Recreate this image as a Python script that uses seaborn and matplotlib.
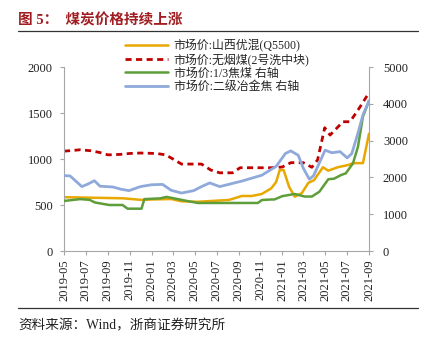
import numpy as np
import pandas as pd
import matplotlib
matplotlib.use("Agg")
import matplotlib.pyplot as plt
import matplotlib.dates as mdates
from matplotlib.lines import Line2D
import seaborn as sns

# ---------------- data ----------------
yellow_dates = ["2019-05-01", "2019-10-12", "2019-12-05", "2020-01-01", "2020-02-25", "2020-03-25",
                "2020-05-10", "2020-08-05", "2020-09-10", "2020-10-08", "2020-11-05", "2020-12-01",
                "2020-12-15", "2020-12-25", "2021-01-05", "2021-01-20", "2021-02-05", "2021-02-25",
                "2021-03-15", "2021-03-31", "2021-04-25", "2021-05-10", "2021-06-05", "2021-07-05",
                "2021-07-18", "2021-08-15", "2021-09-01"]
yellow_vals = [585, 573, 555, 560, 565, 540,
               535, 555, 598, 598, 620, 680,
               750, 880, 880, 700, 590, 630,
               740, 770, 910, 873, 910, 935,
               955, 955, 1275]

red_dates = ["2019-05-01", "2019-06-15", "2019-07-15", "2019-08-10", "2019-09-01", "2019-10-05",
             "2019-11-01", "2019-12-01", "2020-01-15", "2020-02-10", "2020-03-01", "2020-03-25",
             "2020-05-20", "2020-06-15", "2020-07-10", "2020-08-15", "2020-09-05", "2020-12-01",
             "2021-01-01", "2021-01-25", "2021-03-01", "2021-03-25", "2021-04-10", "2021-04-30",
             "2021-05-15", "2021-06-20", "2021-07-10", "2021-08-05", "2021-09-01"]
red_vals = [1085, 1100, 1090, 1070, 1045, 1050,
            1060, 1065, 1060, 1045, 1000, 945,
            945, 880, 850, 850, 905, 905,
            913, 960, 960, 910, 990, 1340,
            1260, 1405, 1405, 1555, 1720]

green_dates = ["2019-05-01", "2019-06-15", "2019-07-12", "2019-07-26", "2019-08-18", "2019-09-05",
               "2019-10-12", "2019-10-26", "2019-12-04", "2019-12-12", "2020-01-25", "2020-02-12",
               "2020-02-28", "2020-03-25", "2020-04-20", "2020-05-10", "2020-10-25", "2020-11-05",
               "2020-12-01", "2020-12-10", "2021-01-01", "2021-02-05", "2021-03-05", "2021-03-25",
               "2021-04-15", "2021-05-10", "2021-05-26", "2021-06-15", "2021-06-28", "2021-07-18",
               "2021-08-01", "2021-08-15", "2021-09-01"]
green_vals = [1360, 1410, 1390, 1320, 1280, 1250,
              1250, 1150, 1150, 1410, 1430, 1470,
              1440, 1390, 1340, 1305, 1305, 1385,
              1400, 1400, 1490, 1550, 1480, 1480,
              1610, 1950, 1965, 2065, 2110, 2380,
              2830, 3650, 4080]

blue_dates = ["2019-05-01", "2019-05-18", "2019-06-03", "2019-06-20", "2019-07-07", "2019-07-25",
              "2019-08-10", "2019-09-15", "2019-10-07", "2019-10-30", "2019-12-01", "2020-01-01",
              "2020-02-01", "2020-02-25", "2020-03-25", "2020-04-28", "2020-05-20", "2020-06-12",
              "2020-07-10", "2020-09-10", "2020-11-05", "2020-12-15", "2021-01-10", "2021-01-25",
              "2021-02-15", "2021-03-01", "2021-03-18", "2021-03-30", "2021-04-20", "2021-05-01",
              "2021-05-20", "2021-06-12", "2021-07-02", "2021-07-15", "2021-08-01", "2021-08-15",
              "2021-09-01"]
blue_vals = [2050, 2040, 1900, 1750, 1820, 1910,
             1760, 1740, 1680, 1640, 1750, 1800,
             1810, 1650, 1575, 1640, 1750, 1850,
             1750, 1900, 2060, 2300, 2650, 2720,
             2600, 2250, 1950, 2050, 2500, 2740,
             2670, 2700, 2530, 2650, 3200, 3700,
             4080]

labels = ["市场价:山西优混(Q5500)", "市场价:无烟煤(2号洗中块)",
          "市场价:1/3焦煤 右轴", "市场价:二级冶金焦 右轴"]
tick_dates = pd.date_range("2019-05-01", "2021-09-01", freq="2MS")
left_ticks = [0, 500, 1000, 1500, 2000]
right_ticks = [0, 1000, 2000, 3000, 4000, 5000]

title_text = "图 5：  煤炭价格持续上涨"
source_text = "资料来源：Wind，浙商证券研究所"

# ---------------- style ----------------
sns.set_theme(style="white")
plt.rcParams["font.family"] = ["Liberation Serif", "Noto Sans CJK SC", "DejaVu Sans"]

colors = {"y": "#E8A800", "r": "#C00000", "g": "#5E9E3A", "b": "#8FA9DB"}

W, H = 424, 343
fig = plt.figure(figsize=(W / 100, H / 100), dpi=100)
ax = fig.add_axes([64 / W, 1 - 251 / H, (369 - 64) / W, 184 / H])
ax2 = ax.twinx()

def frame(dates, vals):
    return pd.DataFrame({"date": pd.to_datetime(dates), "value": vals})

sns.lineplot(data=frame(yellow_dates, yellow_vals), x="date", y="value", ax=ax,
             color=colors["y"], linewidth=1.8, legend=False)
sns.lineplot(data=frame(red_dates, red_vals), x="date", y="value", ax=ax,
             color=colors["r"], linewidth=2.0, linestyle=(0, (2.2, 1.6)), legend=False)
sns.lineplot(data=frame(green_dates, green_vals), x="date", y="value", ax=ax2,
             color=colors["g"], linewidth=1.8, legend=False)
sns.lineplot(data=frame(blue_dates, blue_vals), x="date", y="value", ax=ax2,
             color=colors["b"], linewidth=2.0, legend=False)

ax.set_xlim(pd.Timestamp("2019-05-01"), pd.Timestamp("2021-09-01"))
ax.set_ylim(0, 2000)
ax2.set_ylim(0, 5000)
ax.set_yticks(left_ticks)
ax2.set_yticks(right_ticks)
ax.set_xticks(tick_dates)
ax.xaxis.set_major_formatter(mdates.DateFormatter("%Y-%m"))
ax.set_xlabel("")
ax.set_ylabel("")
ax2.set_ylabel("")

for a in (ax, ax2):
    a.spines["top"].set_visible(False)
    for s in ("left", "right", "bottom"):
        a.spines[s].set_color("#A6A6A6")
        a.spines[s].set_linewidth(0.8)
ax.spines["right"].set_visible(False)
ax2.spines["left"].set_visible(False)
ax2.spines["bottom"].set_visible(False)

tick_kw = dict(direction="out", length=3, width=0.8, color="#A6A6A6",
               labelcolor="#222222", labelsize=9)
ax.tick_params(axis="y", left=True, pad=5, **tick_kw)
ax.tick_params(axis="x", bottom=True, pad=3, labelrotation=90, **tick_kw)
ax2.tick_params(axis="y", right=True, pad=7, **tick_kw)
for lbl in ax.get_xticklabels() + ax.get_yticklabels() + ax2.get_yticklabels():
    lbl.set_fontfamily(["Liberation Serif", "Noto Sans CJK SC"])

# legend
handles = [Line2D([], [], color=colors["y"], lw=1.8),
           Line2D([], [], color=colors["r"], lw=2.0, linestyle=(0, (2.2, 1.6))),
           Line2D([], [], color=colors["g"], lw=1.8),
           Line2D([], [], color=colors["b"], lw=2.0)]
fig.legend(handles, labels, loc="upper left", bbox_to_anchor=(117 / W, 1 - 31 / H),
           frameon=False, handlelength=3.6, handletextpad=0.45,
           labelspacing=0.1, borderpad=0.2,
           prop={"family": ["Liberation Serif", "Noto Sans CJK SC"], "size": 8.6})

# title, rules, source
fig.text(18 / W, 1 - 20 / H, title_text, color="#A11D21", fontsize=10.5, fontweight="bold",
         va="center", ha="left", family=["Liberation Serif", "Noto Sans CJK SC"])
fig.add_artist(Line2D([18 / W, 418 / W], [1 - 31 / H, 1 - 31 / H], color="#333333", lw=0.9))
fig.add_artist(Line2D([18 / W, 418 / W], [1 - 308 / H, 1 - 308 / H], color="#333333", lw=0.9))
fig.text(18 / W, 1 - 326 / H, source_text, color="#222222", fontsize=9.8,
         va="center", ha="left", family=["Liberation Serif", "Noto Sans CJK SC"])

fig.savefig("out.png", dpi=100)
